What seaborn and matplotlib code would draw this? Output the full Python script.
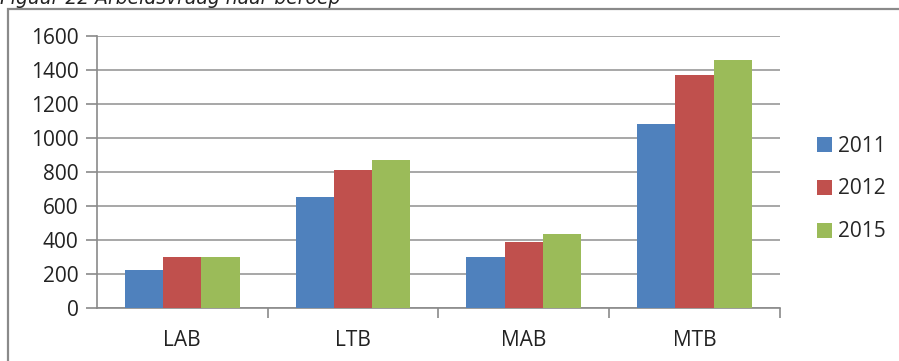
import matplotlib
matplotlib.use("Agg")
import matplotlib.pyplot as plt
import seaborn as sns
import pandas as pd
from matplotlib.patches import Rectangle

# Data
categories = ["LAB", "LTB", "MAB", "MTB"]
years = ["2011", "2012", "2015"]
vals_2011 = [223, 650, 298, 1083]
vals_2012 = [297, 813, 387, 1368]
vals_2015 = [297, 870, 436, 1456]
yticks = [0, 200, 400, 600, 800, 1000, 1200, 1400, 1600]
title = "Figuur 22 Arbeidsvraag naar beroep"
colors = ["#4F81BD", "#C0504D", "#9BBB59"]

df = pd.DataFrame({
    "beroep": categories * 3,
    "jaar": [years[0]] * 4 + [years[1]] * 4 + [years[2]] * 4,
    "waarde": vals_2011 + vals_2012 + vals_2015,
})

sns.set_theme(style="white")
plt.rcParams["font.family"] = ["Open Sans", "DejaVu Sans"]

W, H = 899, 361
FS = 15
fig = plt.figure(figsize=(W / 100, H / 100), dpi=100)

# Outer chart frame (partly cut by the figure edge)
fig.patches.append(Rectangle((8 / W, -0.1), 1.2, (H - 9) / H + 0.1,
                             transform=fig.transFigure, fill=False,
                             edgecolor="#8a8a8a", linewidth=1.6, zorder=0))

x0, x1 = 96.7, 780
y0, y1 = 308, 35.6
ax = fig.add_axes([x0 / W, (H - y0) / H, (x1 - x0) / W, (y0 - y1) / H])

sns.barplot(data=df, x="beroep", y="waarde", hue="jaar", order=categories,
            hue_order=years, palette=colors, width=0.672, saturation=1,
            edgecolor="none", linewidth=0, ax=ax, zorder=3)

ax.set_ylim(0, 1600)
ax.set_xlim(-0.5, 3.5)
ax.set_yticks(yticks)
ax.set_yticklabels([str(v) for v in yticks], fontsize=FS, color="#222222")
ax.set_xticks(range(4))
ax.set_xticklabels(categories, fontsize=FS, color="#222222")
ax.set_xlabel("")
ax.set_ylabel("")

# Horizontal gridlines
ax.yaxis.grid(True, color="#a0a0a0", linewidth=1.3, zorder=0)
ax.set_axisbelow(True)

for s in ["top", "right"]:
    ax.spines[s].set_visible(False)
ax.spines["left"].set_color("#8a8a8a")
ax.spines["bottom"].set_color("#8a8a8a")
ax.spines["left"].set_linewidth(1.2)
ax.spines["bottom"].set_linewidth(1.2)

ax.tick_params(axis="y", which="major", left=True, length=8, width=1.2,
               color="#8a8a8a", pad=5)
# x tick marks sit between categories
ax.tick_params(axis="x", which="major", bottom=False, pad=10)
ax.set_xticks([0.5, 1.5, 2.5, 3.5], minor=True)
ax.tick_params(axis="x", which="minor", bottom=True, length=7, width=1.2,
               color="#8a8a8a")

# Legend
handles, labels = ax.get_legend_handles_labels()
ax.legend(handles, labels, loc="center left", bbox_to_anchor=(817 / W, (H - 189) / H),
          bbox_transform=fig.transFigure, frameon=False, fontsize=FS,
          handlelength=0.72, handleheight=0.72, handletextpad=0.3,
          labelspacing=1.05, borderaxespad=0, borderpad=0)

# Title, partly cut off at the top edge
fig.text(0.0, (H - 4) / H, title, fontsize=13.5, style="italic",
         color="#222222", ha="left", va="baseline", family=["DejaVu Sans"])

fig.savefig("out.png", dpi=100)
